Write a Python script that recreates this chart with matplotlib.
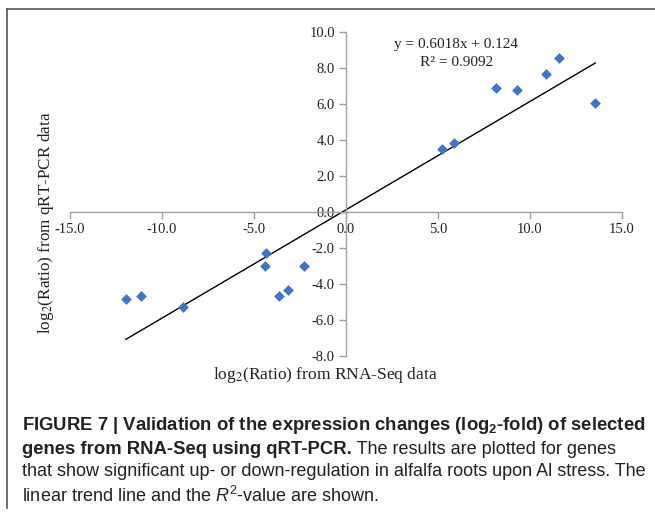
import matplotlib
matplotlib.use("Agg")
import matplotlib.pyplot as plt
from matplotlib.lines import Line2D

plt.rcParams['mathtext.fontset'] = 'custom'
plt.rcParams['mathtext.rm'] = 'Liberation Sans'
plt.rcParams['mathtext.it'] = 'Liberation Sans:italic'
plt.rcParams['mathtext.bf'] = 'Liberation Sans:bold'

# Data
rnaseq = [-11.96, -11.14, -8.85, -4.36, -4.38, -3.63, -3.15, -2.29,
          5.20, 5.88, 8.17, 9.30, 10.87, 11.60, 13.55]
qrtpcr = [-4.86, -4.69, -5.30, -2.27, -2.98, -4.68, -4.34, -3.01,
          3.51, 3.83, 6.89, 6.77, 7.67, 8.56, 6.04]
slope = 0.6018
intercept = 0.124
r2 = 0.9092
xticks = [-15, -10, -5, 0, 5, 10, 15]
yticks = [-8, -6, -4, -2, 0, 2, 4, 6, 8, 10]

W, H = 655, 515
fig = plt.figure(figsize=(W / 100, H / 100), dpi=100)
ax = fig.add_axes([70 / W, 1 - 356 / H, 552 / W, 324 / H])

ax.scatter(rnaseq, qrtpcr, marker='D', s=30, color='#4472C4', zorder=3, linewidths=0)
x0, x1 = min(rnaseq), max(rnaseq)
ax.plot([x0, x1], [slope * x0 + intercept, slope * x1 + intercept], color='black', lw=1.0, zorder=2)

ax.set_xlim(-15, 15)
ax.set_ylim(-8, 10)
for s in ['top', 'right']:
    ax.spines[s].set_visible(False)
ax.spines['left'].set_position(('data', 0))
ax.spines['bottom'].set_position(('data', 0))
for s in ['left', 'bottom']:
    ax.spines[s].set_color('#a0a0a0')
    ax.spines[s].set_linewidth(1.0)
ax.set_xticks(xticks)
ax.set_yticks(yticks)
ax.set_xticklabels([f"{v:.1f}" for v in xticks])
ax.set_yticklabels([f"{v:.1f}" for v in yticks])
ax.tick_params(axis='both', colors='#a0a0a0', length=5, width=1.0, direction='out',
               labelcolor='#222222', labelsize=10.5, pad=3)
for lab in ax.get_xticklabels() + ax.get_yticklabels():
    lab.set_fontfamily('Liberation Serif')
ax.patch.set_alpha(0)

ax.text(6.0, 9.28, "y = 0.6018x + 0.124", ha='center', va='center',
        fontfamily='Liberation Serif', fontsize=11, color='#222222')
ax.text(6.0, 8.28, f"R² = {r2:.4f}", ha='center', va='center',
        fontfamily='Liberation Serif', fontsize=11, color='#222222')

fig.text(46 / W, 1 - 223 / H, r"log$_2$(Ratio) from qRT-PCR data", rotation=90,
         ha='center', va='center', fontfamily='Liberation Serif', fontsize=12.3,
         color='#222222', math_fontfamily='stix')
fig.text(325 / W, 1 - 375 / H, r"log$_2$(Ratio) from RNA-Seq data",
         ha='center', va='center', fontfamily='Liberation Serif', fontsize=12.5,
         color='#222222', math_fontfamily='stix')

# frame
fig.add_artist(Line2D([7 / W, 7 / W], [1 - 508 / H, 1 - 9 / H], color='#555555', lw=1.2))
fig.add_artist(Line2D([7 / W, 1.0], [1 - 9 / H, 1 - 9 / H], color='#555555', lw=1.2))

# caption
fsb = 13.3
fsr = 13.0
cap_x = 22 / W
ys = [425, 449, 472, 496]
fig.text(cap_x, 1 - ys[0] / H,
         r"FIGURE 7 | Validation of the expression changes (log$_\mathbf{2}$-fold) of selected",
         fontfamily='Liberation Sans', fontweight='bold', fontsize=fsb, va='center', color='#222222')
fig.canvas.draw()
r = fig.canvas.get_renderer()
t_bold = fig.text(cap_x, 1 - ys[1] / H, "genes from RNA-Seq using qRT-PCR.",
                  fontfamily='Liberation Sans', fontweight='bold', fontsize=fsb, va='center', color='#222222')
bb = t_bold.get_window_extent(renderer=r)
fig.text(bb.x1 / W, 1 - ys[1] / H, " The results are plotted for genes",
         fontfamily='Liberation Sans', fontsize=fsr, va='center', color='#222222')
fig.text(cap_x, 1 - ys[2] / H,
         "that show significant up- or down-regulation in alfalfa roots upon Al stress. The",
         fontfamily='Liberation Sans', fontsize=fsr, va='center', color='#222222')
fig.text(cap_x, 1 - ys[3] / H,
         r"linear trend line and the $\mathit{R}^2$-value are shown.",
         fontfamily='Liberation Sans', fontsize=fsr, va='center', color='#222222')

fig.savefig("out.png", dpi=100)
